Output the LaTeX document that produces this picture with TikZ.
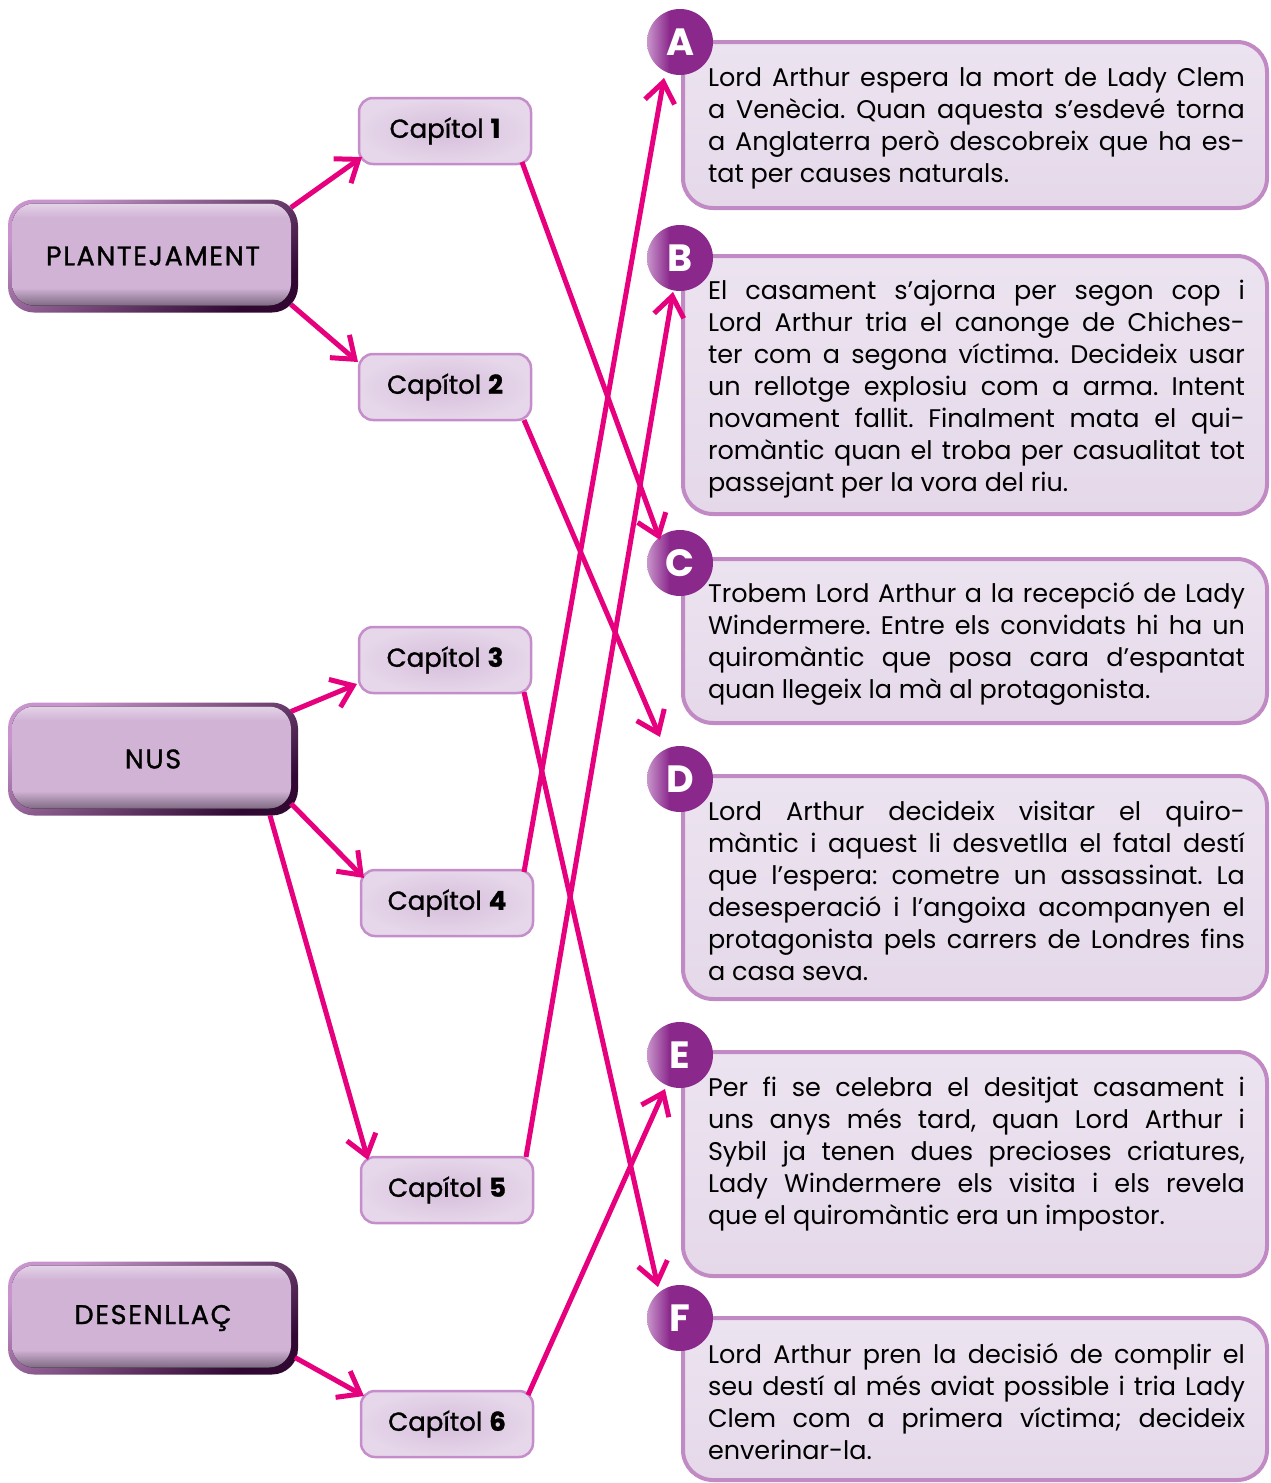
\documentclass[tikz,border=0pt]{standalone}
\usepackage{fontspec}
\setmainfont{Poppins}
\newfontfamily\medfont[FakeBold=1.2]{Poppins}
\newfontfamily\capsfont[FakeBold=1.2,LetterSpace=6]{Poppins}
\usetikzlibrary{arrows.meta,calc}
\setlength{\parindent}{0pt}
\definecolor{mag}{HTML}{E6007E}
\definecolor{bbLight}{HTML}{C994CD}
\definecolor{bbDark}{HTML}{300832}
\definecolor{bbFill}{HTML}{D1B3D6}
\definecolor{bbHi}{HTML}{E9DCEC}
\definecolor{bbShadow}{HTML}{5E4E62}
\definecolor{capFill}{HTML}{D6BEDB}
\definecolor{capEdge}{HTML}{E6D7EA}
\definecolor{capDraw}{HTML}{C58ECA}
\definecolor{tbFill}{HTML}{ECE3F0}
\definecolor{tbFillB}{HTML}{E5D9E9}
\definecolor{tbDraw}{HTML}{C28AC5}
\definecolor{cirL}{HTML}{C896CB}
\definecolor{cirD}{HTML}{8A288C}
\pgfdeclareverticalshading{bigfill}{100bp}{color(0bp)=(bbShadow); color(25bp)=(bbShadow); color(36bp)=(bbFill); color(67bp)=(bbFill); color(75bp)=(bbHi); color(100bp)=(bbHi)}
\pgfdeclarehorizontalshading{circshade}{100bp}{color(0bp)=(cirL); color(25bp)=(cirL); color(42bp)=(cirD); color(100bp)=(cirD)}
\newcommand\bodyfont{\fontsize{25.5}{32}\selectfont\frenchspacing}
\newcommand\jl[1]{{\spaceskip=0pt\xspaceskip=0pt\makebox[537pt][s]{#1}}\par}
\newcommand\lastline[1]{{\spaceskip=0pt\xspaceskip=0pt#1}\par}
\newcommand\firststrut{\rule{0pt}{24pt}}
\begin{document}
\begin{tikzpicture}[x=1pt,y=-1pt,
  bigbox/.style={rectangle, rounded corners=26pt, minimum width=290pt, minimum height=113pt,
    inner sep=0, outer sep=0, shading=axis, top color=bbLight, bottom color=bbDark, shading angle=32,
    font=\capsfont\fontsize{27}{30}\selectfont,
    path picture={\fill[shading=bigfill, shading angle=0, rounded corners=22pt]
      ([shift={(4pt,-4pt)}]path picture bounding box.north west) rectangle
      ([shift={(-7pt,7pt)}]path picture bounding box.south east);}},
  capbox/.style={rectangle, rounded corners=14pt, minimum width=172pt, minimum height=66pt,
    inner sep=0, outer sep=0, draw=capDraw, line width=2.5pt, inner color=capFill, outer color=capEdge,
    font=\medfont\fontsize{26}{30}\selectfont},
  tbox/.style={draw=tbDraw, line width=4pt, rounded corners=30pt, top color=tbFill, bottom color=tbFillB},
  circ/.style={circle, minimum size=66pt, inner sep=0, outer sep=0, shading=circshade,
    text=white, font=\fontsize{38}{38}\selectfont\bfseries},
  txt/.style={anchor=north west, inner sep=0, outer sep=0, text width=537pt, font=\bodyfont},
  arr/.style={draw=mag, line width=5pt, -{Straight Barb[length=20pt,width=30pt]}}
]
\useasboundingbox[fill=white] (0,0) rectangle (1271,1483);

% text boxes
\draw[tbox] (683,42) rectangle (1267,208);
\draw[tbox] (683,256) rectangle (1267,514);
\draw[tbox] (683,559) rectangle (1267,723);
\draw[tbox] (683,776) rectangle (1267,999);
\draw[tbox] (683,1052) rectangle (1267,1276);
\draw[tbox] (683,1318) rectangle (1267,1480);

% letter circles
\node[circ] (cA) at (680,42) {A};
\node[circ] (cB) at (680,258) {B};
\node[circ] (cC) at (680,563) {C};
\node[circ] (cD) at (680,779) {D};
\node[circ] (cE) at (680,1055) {E};
\node[circ] (cF) at (680,1318) {F};

% texts
\node[txt] (tA) at (708,62) {\jl{\firststrut Lord Arthur espera la mort de Lady Clem}\jl{a Venècia. Quan aquesta s’esdevé torna}\jl{a Anglaterra però descobreix que ha es-}\lastline{tat per causes naturals.}};
\node[txt] (tB) at (708,275) {\jl{\firststrut El casament s’ajorna per segon cop i}\jl{Lord Arthur tria el canonge de Chiches-}\jl{ter com a segona víctima. Decideix usar}\jl{un rellotge explosiu com a arma. Intent}\jl{novament fallit. Finalment mata el qui-}\jl{romàntic quan el troba per casualitat tot}\lastline{passejant per la vora del riu.}};
\node[txt] (tC) at (708,578) {\jl{\firststrut Trobem Lord Arthur a la recepció de Lady}\jl{Windermere. Entre els convidats hi ha un}\jl{quiromàntic que posa cara d’espantat}\lastline{quan llegeix la mà al protagonista.}};
\node[txt] (tD) at (708,796) {\jl{\firststrut Lord Arthur decideix visitar el quiro-}\jl{màntic i aquest li desvetlla el fatal destí}\jl{que l’espera: cometre un assassinat. La}\jl{desesperació i l’angoixa acompanyen el}\jl{protagonista pels carrers de Londres fins}\lastline{a casa seva.}};
\node[txt] (tE) at (708,1072) {\jl{\firststrut Per fi se celebra el desitjat casament i}\jl{uns anys més tard, quan Lord Arthur i}\jl{Sybil ja tenen dues precioses criatures,}\jl{Lady Windermere els visita i els revela}\lastline{que el quiromàntic era un impostor.}};
\node[txt] (tF) at (708,1339) {\jl{\firststrut Lord Arthur pren la decisió de complir el}\jl{seu destí al més aviat possible i tria Lady}\jl{Clem com a primera víctima; decideix}\lastline{enverinar-la.}};

% left boxes
\node[bigbox] (plan) at (153,256) {PLANTEJAMENT};
\node[bigbox] (nus) at (153,759) {NUS};
\node[bigbox] (des) at (153,1318) {DESENLLAÇ};

% chapter boxes
\node[capbox] (cap1) at (445,131) {Capítol \textbf{1}};
\node[capbox] (cap2) at (445,387) {Capítol \textbf{2}};
\node[capbox] (cap3) at (445,660) {Capítol \textbf{3}};
\node[capbox] (cap4) at (447,903) {Capítol \textbf{4}};
\node[capbox] (cap5) at (447,1190) {Capítol \textbf{5}};
\node[capbox] (cap6) at (447,1424) {Capítol \textbf{6}};

% arrows
\draw[arr] ($(plan.north east)+(-7,8)$) -- ($(cap1.south west)+(3,-7)$);
\draw[arr] ($(plan.south east)+(-7,-8)$) -- ($(cap2.north west)+(-1,8)$);
\draw[arr] ($(nus.north east)+(-7,9)$) -- ($(cap3.south west)+(-2,-9)$);
\draw[arr] ($(nus.south east)+(-7,-12)$) -- ($(cap4.north west)+(3,8)$);
\draw[arr] ($(nus.south east)+(-28,0)$) -- ($(cap5.north west)+(7,3)$);
\draw[arr] ($(des.south east)+(-3,-17)$) -- ($(cap6.north west)+(3,5)$);
\draw[arr] ($(cap1.south east)+(-9,-2)$) -- ($(cC)+(-20,-23)$);
\draw[arr] ($(cap2.south east)+(-7,0)$) -- ($(cD)+(-20,-42)$);
\draw[arr] ($(cap3.south east)+(-7,-1)$) -- ($(cF)+(-22,-31)$);
\draw[arr] ($(cap4.north east)+(-9,2)$) -- ($(cA)+(-16,36)$);
\draw[arr] ($(cap5.north east)+(-7,0)$) -- ($(cB)+(-7,34)$);
\draw[arr] ($(cap6.north east)+(-5,4)$) -- ($(cE)+(-15,34)$);
\end{tikzpicture}
\end{document}
